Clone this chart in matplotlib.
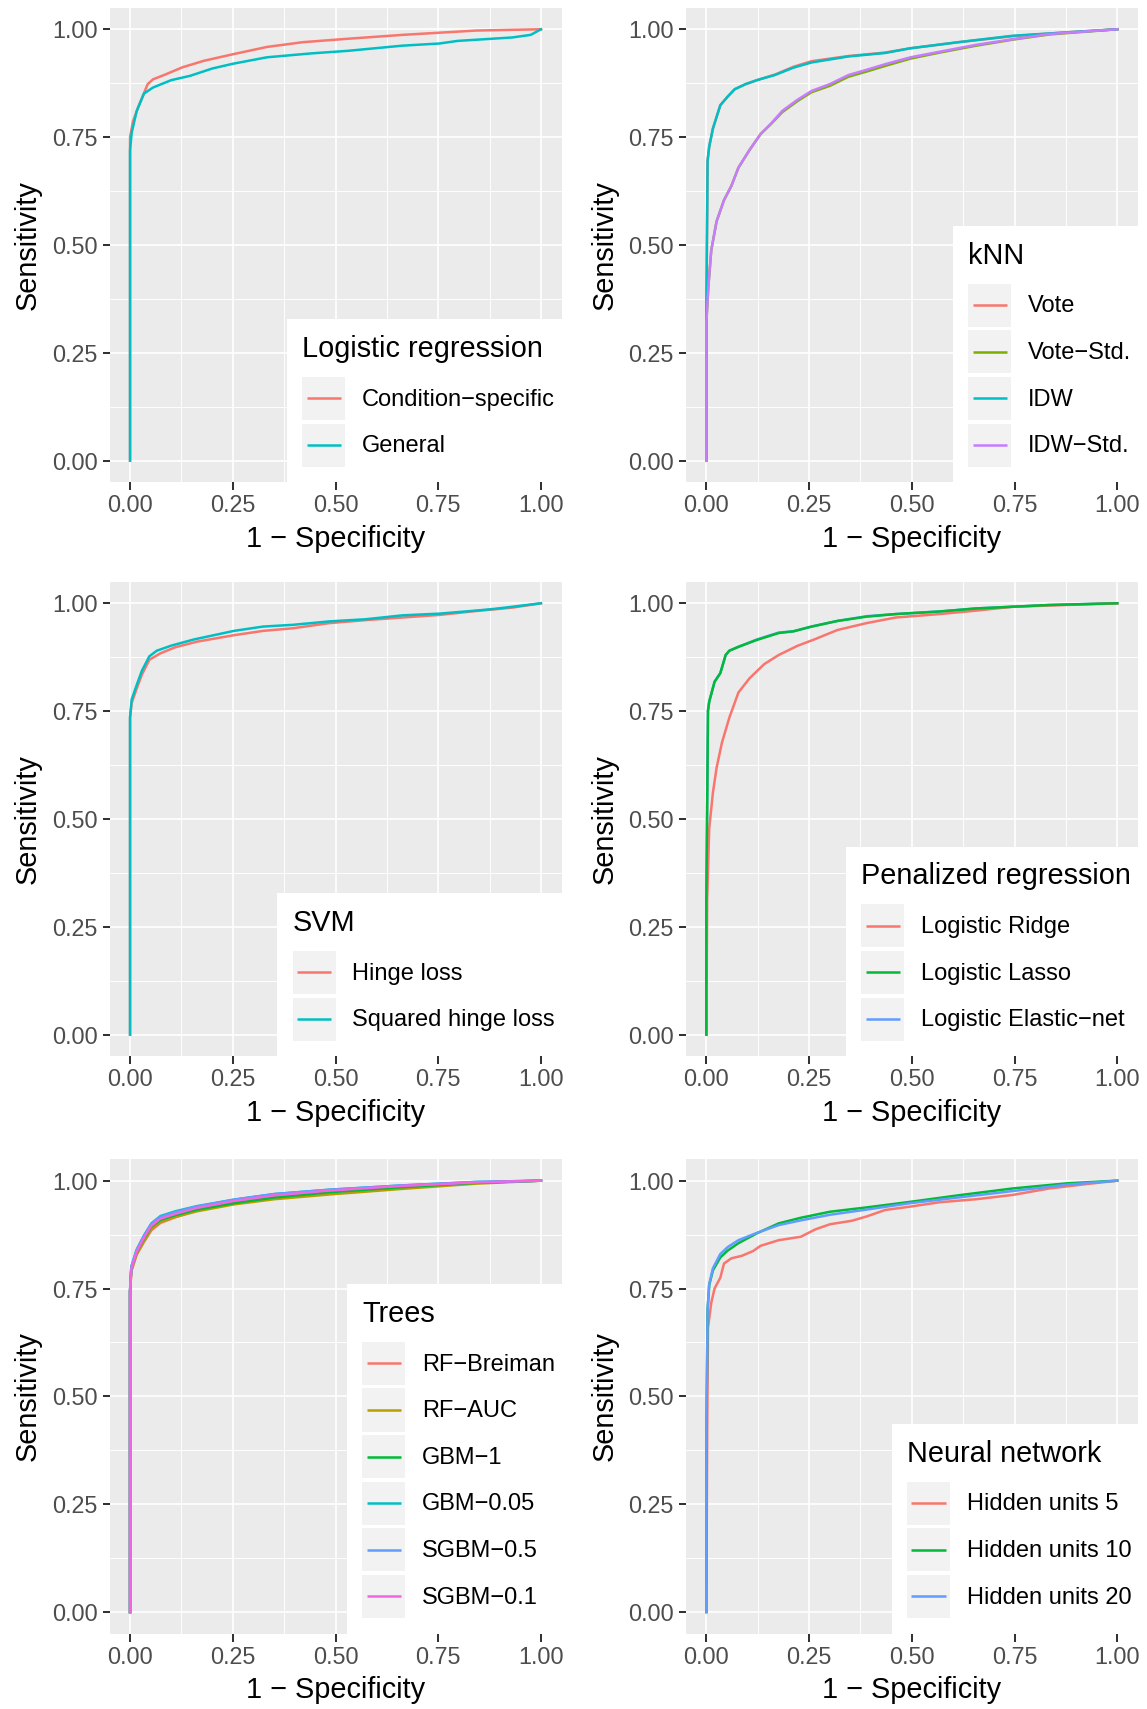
import matplotlib
matplotlib.use("Agg")
import matplotlib.pyplot as plt
from matplotlib.legend_handler import HandlerBase
from matplotlib.lines import Line2D
from matplotlib.patches import Rectangle

plt.rcParams['font.family'] = ['Liberation Sans', 'DejaVu Sans']

# --- Logistic regression ---
lr_cond_fpr = [0, 0, 0.007, 0.02, 0.043, 0.056, 0.083, 0.128, 0.18, 0.25, 0.333, 0.42, 0.53, 0.663, 0.842, 1.0]
lr_cond_tpr = [0, 0.75, 0.786, 0.82, 0.873, 0.884, 0.894, 0.912, 0.927, 0.942, 0.959, 0.970, 0.978, 0.987, 0.997, 1.0]
lr_gen_fpr = [0, 0, 0.004, 0.016, 0.034, 0.056, 0.1, 0.146, 0.2, 0.25, 0.333, 0.44, 0.53, 0.663, 0.753, 0.797, 0.93, 0.975, 1.0]
lr_gen_tpr = [0, 0.72, 0.76, 0.81, 0.851, 0.865, 0.882, 0.892, 0.909, 0.92, 0.935, 0.944, 0.95, 0.962, 0.967, 0.973, 0.981, 0.987, 1.0]

# --- kNN ---
knn_fpr = [0, 0, 0.003, 0.007, 0.016, 0.034, 0.052, 0.069, 0.096, 0.123, 0.167, 0.212, 0.256, 0.346, 0.435, 0.497, 0.613, 0.746, 0.88, 1.0]
knn_vote_tpr = [0, 0.34, 0.695, 0.728, 0.77, 0.824, 0.844, 0.861, 0.873, 0.882, 0.895, 0.913, 0.926, 0.938, 0.946, 0.956, 0.970, 0.984, 0.993, 1.0]
knn_idw_tpr = [0, 0.34, 0.695, 0.728, 0.77, 0.824, 0.844, 0.861, 0.873, 0.882, 0.894, 0.911, 0.923, 0.937, 0.945, 0.956, 0.970, 0.985, 0.993, 1.0]
knn_std_fpr = [0, 0, 0.005, 0.012, 0.025, 0.043, 0.061, 0.078, 0.105, 0.132, 0.158, 0.185, 0.221, 0.256, 0.301, 0.346, 0.39, 0.435, 0.497, 0.568, 0.657, 0.746, 0.835, 1.0]
knn_vote_std_tpr = [0, 0.32, 0.405, 0.488, 0.555, 0.604, 0.637, 0.679, 0.72, 0.757, 0.781, 0.808, 0.833, 0.854, 0.869, 0.89, 0.902, 0.915, 0.932, 0.946, 0.962, 0.976, 0.988, 1.0]
knn_idw_std_tpr = [0, 0.32, 0.405, 0.488, 0.555, 0.604, 0.637, 0.679, 0.72, 0.757, 0.782, 0.811, 0.836, 0.857, 0.873, 0.894, 0.906, 0.919, 0.935, 0.948, 0.964, 0.977, 0.989, 1.0]

# --- SVM ---
svm_hinge_fpr = [0, 0, 0.004, 0.016, 0.029, 0.047, 0.074, 0.11, 0.163, 0.253, 0.324, 0.396, 0.485, 0.574, 0.663, 0.753, 0.842, 0.931, 1.0]
svm_hinge_tpr = [0, 0.735, 0.769, 0.802, 0.835, 0.869, 0.884, 0.898, 0.911, 0.926, 0.936, 0.942, 0.954, 0.961, 0.967, 0.973, 0.982, 0.99, 1.0]
svm_sq_fpr = [0, 0, 0.004, 0.016, 0.029, 0.047, 0.065, 0.101, 0.155, 0.253, 0.324, 0.396, 0.485, 0.574, 0.663, 0.753, 0.842, 0.887, 0.931, 1.0]
svm_sq_tpr = [0, 0.735, 0.777, 0.81, 0.844, 0.877, 0.89, 0.902, 0.916, 0.936, 0.946, 0.95, 0.958, 0.963, 0.972, 0.976, 0.983, 0.987, 0.992, 1.0]

# --- Penalized regression ---
pen_ridge_fpr = [0, 0.002, 0.007, 0.016, 0.025, 0.038, 0.056, 0.078, 0.105, 0.141, 0.176, 0.221, 0.265, 0.319, 0.39, 0.461, 0.568, 0.657, 0.746, 1.0]
pen_ridge_tpr = [0, 0.312, 0.478, 0.561, 0.619, 0.677, 0.735, 0.793, 0.826, 0.859, 0.88, 0.901, 0.917, 0.938, 0.954, 0.967, 0.975, 0.983, 0.992, 1.0]
pen_lasso_fpr = [0, 0, 0.004, 0.007, 0.02, 0.034, 0.047, 0.056, 0.078, 0.123, 0.176, 0.212, 0.256, 0.319, 0.39, 0.461, 0.568, 0.657, 0.835, 1.0]
pen_lasso_tpr = [0, 0.312, 0.751, 0.772, 0.818, 0.838, 0.88, 0.89, 0.899, 0.915, 0.931, 0.935, 0.946, 0.959, 0.969, 0.975, 0.981, 0.988, 0.996, 1.0]
pen_enet_tpr = [0, 0.312, 0.751, 0.772, 0.818, 0.838, 0.88, 0.89, 0.899, 0.916, 0.932, 0.935, 0.946, 0.959, 0.970, 0.975, 0.981, 0.988, 0.996, 1.0]

# --- Trees ---
tree_fpr = [0, 0, 0.003, 0.016, 0.034, 0.052, 0.074, 0.11, 0.163, 0.253, 0.351, 0.485, 0.663, 0.842, 1.0]
rf_breiman_tpr = [0, 0.74, 0.79, 0.828, 0.858, 0.885, 0.902, 0.915, 0.931, 0.949, 0.963, 0.975, 0.986, 0.995, 1.0]
rf_auc_tpr = [0, 0.74, 0.79, 0.83, 0.86, 0.888, 0.905, 0.916, 0.929, 0.945, 0.957, 0.968, 0.981, 0.993, 1.0]
gbm_1_tpr = [0, 0.745, 0.795, 0.834, 0.866, 0.894, 0.909, 0.92, 0.933, 0.948, 0.961, 0.973, 0.985, 0.995, 1.0]
gbm_005_tpr = [0, 0.745, 0.8, 0.84, 0.873, 0.901, 0.918, 0.929, 0.941, 0.956, 0.969, 0.979, 0.989, 0.997, 1.0]
sgbm_05_tpr = [0, 0.745, 0.8, 0.839, 0.872, 0.9, 0.916, 0.927, 0.94, 0.956, 0.969, 0.979, 0.989, 0.997, 1.0]
sgbm_01_tpr = [0, 0.742, 0.795, 0.835, 0.868, 0.896, 0.912, 0.923, 0.937, 0.953, 0.966, 0.977, 0.988, 0.996, 1.0]

# --- Neural network ---
nn5_fpr = [0, 0.002, 0.004, 0.012, 0.02, 0.034, 0.043, 0.061, 0.087, 0.114, 0.132, 0.176, 0.23, 0.265, 0.301, 0.354, 0.39, 0.435, 0.497, 0.568, 0.657, 0.746, 0.835, 0.924, 1.0]
nn5_tpr = [0, 0.411, 0.659, 0.717, 0.75, 0.775, 0.808, 0.82, 0.826, 0.837, 0.849, 0.862, 0.87, 0.887, 0.899, 0.907, 0.917, 0.932, 0.94, 0.95, 0.957, 0.967, 0.982, 0.992, 1.0]
nn_fpr = [0, 0, 0.003, 0.007, 0.016, 0.034, 0.052, 0.078, 0.123, 0.176, 0.23, 0.301, 0.39, 0.497, 0.613, 0.746, 0.88, 1.0]
nn10_tpr = [0, 0.411, 0.70, 0.758, 0.792, 0.822, 0.838, 0.855, 0.878, 0.901, 0.914, 0.928, 0.938, 0.951, 0.966, 0.982, 0.994, 1.0]
nn20_tpr = [0, 0.411, 0.70, 0.76, 0.797, 0.83, 0.846, 0.862, 0.879, 0.897, 0.908, 0.921, 0.933, 0.948, 0.961, 0.976, 0.991, 1.0]

panels = [
    ("Logistic regression", ["Condition\u2212specific", "General"],
     [(lr_cond_fpr, lr_cond_tpr), (lr_gen_fpr, lr_gen_tpr)],
     ["#F8766D", "#00BFC4"]),
    ("kNN", ["Vote", "Vote\u2212Std.", "IDW", "IDW\u2212Std."],
     [(knn_fpr, knn_vote_tpr), (knn_std_fpr, knn_vote_std_tpr), (knn_fpr, knn_idw_tpr), (knn_std_fpr, knn_idw_std_tpr)],
     ["#F8766D", "#7CAE00", "#00BFC4", "#C77CFF"]),
    ("SVM", ["Hinge loss", "Squared hinge loss"],
     [(svm_hinge_fpr, svm_hinge_tpr), (svm_sq_fpr, svm_sq_tpr)],
     ["#F8766D", "#00BFC4"]),
    ("Penalized regression", ["Logistic Ridge", "Logistic Lasso", "Logistic Elastic\u2212net"],
     [(pen_ridge_fpr, pen_ridge_tpr), (pen_lasso_fpr, pen_lasso_tpr), (pen_lasso_fpr, pen_enet_tpr)],
     ["#F8766D", "#00BA38", "#619CFF"]),
    ("Trees", ["RF\u2212Breiman", "RF\u2212AUC", "GBM\u22121", "GBM\u22120.05", "SGBM\u22120.5", "SGBM\u22120.1"],
     [(tree_fpr, rf_breiman_tpr), (tree_fpr, rf_auc_tpr), (tree_fpr, gbm_1_tpr), (tree_fpr, gbm_005_tpr),
      (tree_fpr, sgbm_05_tpr), (tree_fpr, sgbm_01_tpr)],
     ["#F8766D", "#B79F00", "#00BA38", "#00BFC4", "#619CFF", "#F564E3"]),
    ("Neural network", ["Hidden units 5", "Hidden units 10", "Hidden units 20"],
     [(nn5_fpr, nn5_tpr), (nn_fpr, nn10_tpr), (nn_fpr, nn20_tpr)],
     ["#F8766D", "#00BA38", "#619CFF"]),
]

ticks = [0, 0.25, 0.5, 0.75, 1.0]
tick_labels = ["0.00", "0.25", "0.50", "0.75", "1.00"]
minor = [0.125, 0.375, 0.625, 0.875]


class KeyHandler(HandlerBase):
    # ggplot style key: grey square with a line through it
    def create_artists(self, legend, orig_handle, xdescent, ydescent, width, height, fontsize, trans):
        bg = Rectangle((-xdescent, -ydescent), width, height, facecolor="#F2F2F2",
                       edgecolor="none", transform=trans)
        ym = -ydescent + height / 2
        ln = Line2D([-xdescent + 0.1 * width, -xdescent + 0.9 * width], [ym, ym],
                    color=orig_handle.get_color(), lw=orig_handle.get_linewidth(),
                    solid_capstyle="butt", transform=trans)
        return [bg, ln]


W, H = 1147, 1709
fig = plt.figure(figsize=(W / 100, H / 100), dpi=100)
lefts = [109.5, 685.8]
tops = [7.7, 581.7, 1159.1]
pw, ph = 452, 474.5

for i, (title, labels, series, colors) in enumerate(panels):
    r, c = divmod(i, 2)
    ax = fig.add_axes([lefts[c] / W, 1 - (tops[r] + ph) / H, pw / W, ph / H])
    ax.set_facecolor("#EBEBEB")
    for s in ax.spines.values():
        s.set_visible(False)
    ax.set_xlim(-0.05, 1.05)
    ax.set_ylim(-0.05, 1.05)
    ax.set_xticks(ticks, tick_labels)
    ax.set_yticks(ticks, tick_labels)
    ax.set_xticks(minor, minor=True)
    ax.set_yticks(minor, minor=True)
    ax.grid(which="major", color="white", lw=1.2)
    ax.grid(which="minor", color="white", lw=0.65)
    ax.set_axisbelow(True)
    ax.tick_params(which="major", length=5.4, width=1.45, color="#333333", pad=3.3,
                   labelsize=16.8, labelcolor="#4D4D4D")
    ax.tick_params(which="minor", length=0)

    handles = []
    for k, ((fx, ty), col) in enumerate(zip(series, colors)):
        z = 2 + k
        if title == "Penalized regression" and k == 2:
            z = 1.5
        h, = ax.plot(fx, ty, color=col, lw=1.8, zorder=z)
        handles.append(h)

    ax.set_xlabel("1 \u2212 Specificity", fontsize=20.8, labelpad=5.5)
    ax.set_ylabel("Sensitivity", fontsize=20.8, labelpad=7)

    leg = ax.legend(handles, labels, title=title, loc="lower right", bbox_to_anchor=(1 + 9 / pw, 0),
                    borderaxespad=0, fontsize=17, title_fontsize=20.8, alignment="left",
                    frameon=True, fancybox=False, framealpha=1, facecolor="white",
                    handler_map={Line2D: KeyHandler()}, handlelength=1.82, handleheight=2.43,
                    labelspacing=0.15, handletextpad=0.7, borderpad=0.66)
    leg.get_frame().set_linewidth(0)
    leg.set_zorder(10)
    # gap between the legend title and the keys (ggplot leaves more room than matplotlib)
    leg._legend_box.sep = 10

fig.savefig("out.png", dpi=100, facecolor="white")
